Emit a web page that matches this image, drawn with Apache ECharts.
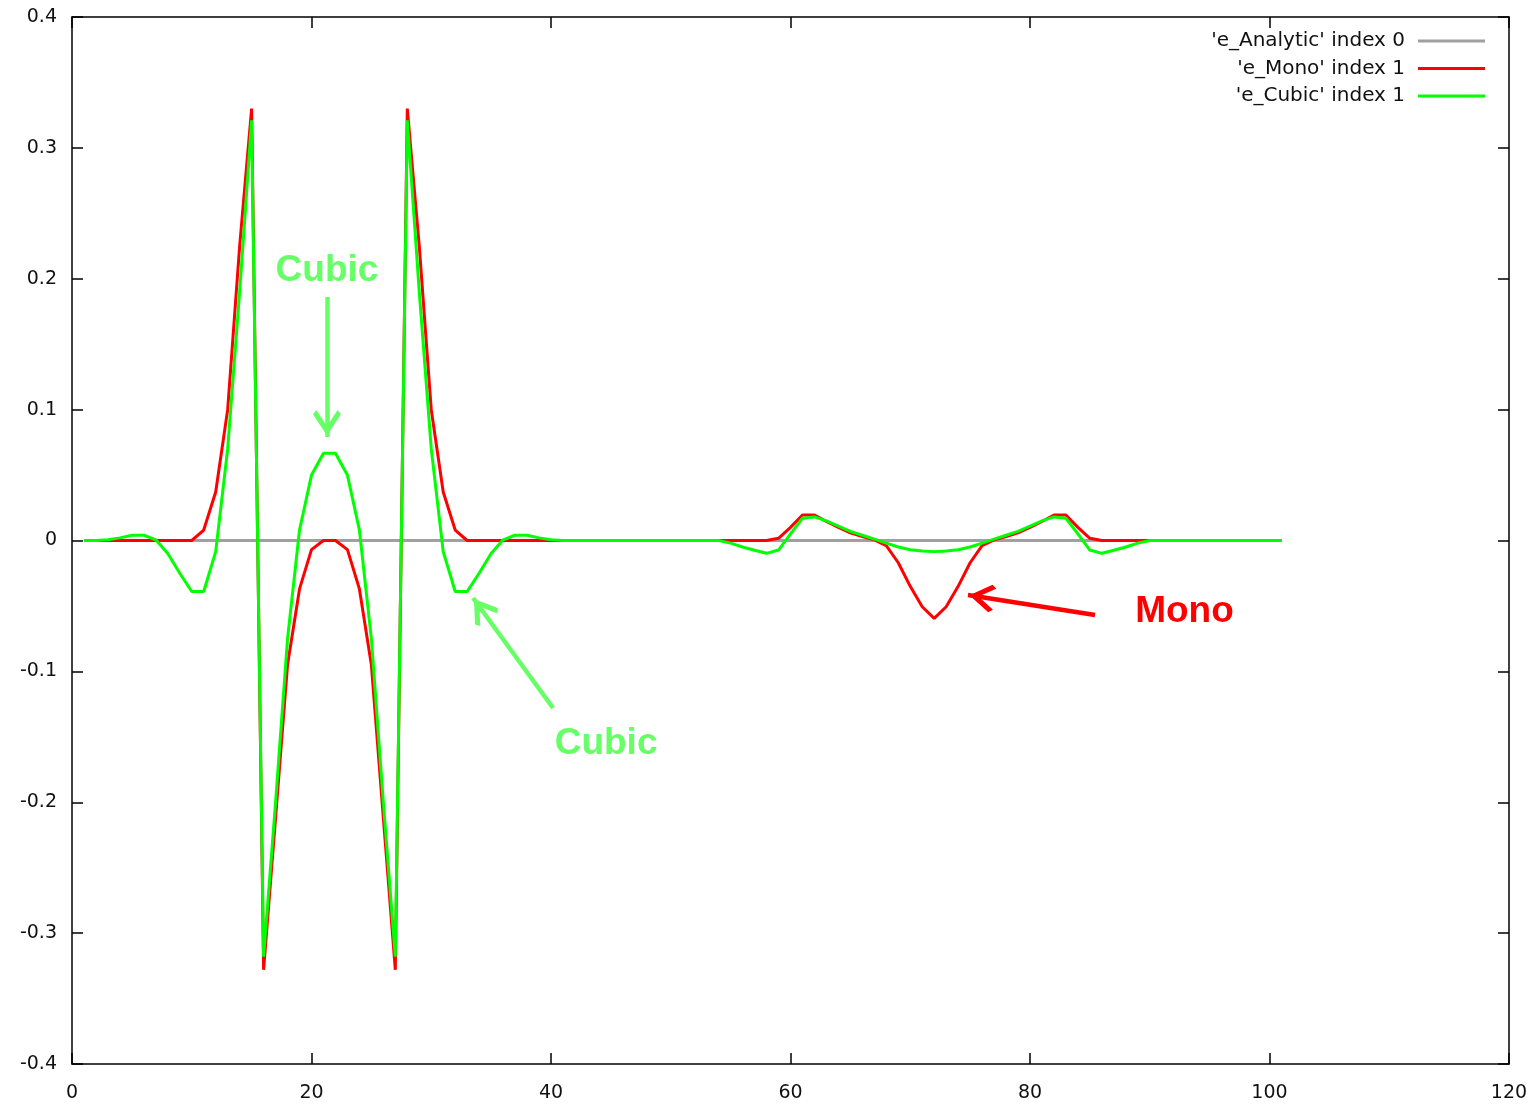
<!DOCTYPE html>
<html>
<head>
<meta charset="utf-8">
<script src="https://cdn.jsdelivr.net/npm/echarts@6/dist/echarts.min.js"></script>
<style>
html,body{margin:0;padding:0;background:#fff;}
#chart{width:1538px;height:1110px;}
</style>
</head>
<body>
<div id="chart"></div>
<script>
// ---- data ----
const xs = [1,2,3,4,5,6,7,8,9,10,11,12,13,14,15,16,17,18,19,20,
  21,22,23,24,25,26,27,28,29,30,31,32,33,34,35,36,37,38,39,40,
  41,42,43,44,45,46,47,48,49,50,51,52,53,54,55,56,57,58,59,60,
  61,62,63,64,65,66,67,68,69,70,71,72,73,74,75,76,77,78,79,80,
  81,82,83,84,85,86,87,88,89,90,91,92,93,94,95,96,97,98,99,100,101];

const analytic = [0,0,0,0,0,0,0,0,0,0,0,0,0,0,0,0,0,0,0,0,
  0,0,0,0,0,0,0,0,0,0,0,0,0,0,0,0,0,0,0,0,
  0,0,0,0,0,0,0,0,0,0,0,0,0,0,0,0,0,0,0,0,
  0,0,0,0,0,0,0,0,0,0,0,0,0,0,0,0,0,0,0,0,
  0,0,0,0,0,0,0,0,0,0,0,0,0,0,0,0,0,0,0,0,0];

const mono = [0,0,0,0,0,0,0,0,0,0,
  0.008,0.037,0.1,0.225,0.33,-0.328,-0.212,-0.095,-0.037,-0.007,
  0,0,-0.007,-0.037,-0.095,-0.212,-0.328,0.33,0.225,0.1,
  0.037,0.008,0,0,0,0,0,0,0,0,
  0,0,0,0,0,0,0,0,0,0,
  0,0,0,0,0,0,0,0,0.0017,0.01,
  0.0195,0.0195,0.0145,0.01,0.0058,0.003,0.0005,-0.004,-0.017,-0.035,
  -0.0506,-0.0595,-0.0506,-0.035,-0.017,-0.004,0.0005,0.003,0.0058,0.01,
  0.0145,0.0195,0.0195,0.01,0.0017,0,0,0,0,0,
  0,0,0,0,0,0,0,0,0,0,0];

const cubic = [0,0,0.0005,0.002,0.004,0.004,0.0005,-0.01,-0.025,-0.039,
  -0.039,-0.0085,0.07,0.19,0.321,-0.318,-0.2,-0.075,0.008,0.05,
  0.0666,0.0666,0.05,0.008,-0.075,-0.2,-0.318,0.321,0.19,0.07,
  -0.0085,-0.039,-0.039,-0.025,-0.01,0.0005,0.004,0.004,0.002,0.0005,
  0,0,0,0,0,0,0,0,0,0,
  0,0,0,0,-0.002,-0.005,-0.0075,-0.0098,-0.0073,0.005,
  0.017,0.018,0.015,0.011,0.007,0.004,0.001,-0.002,-0.005,-0.007,
  -0.008,-0.0085,-0.008,-0.007,-0.005,-0.002,0.001,0.004,0.007,0.011,
  0.015,0.018,0.017,0.005,-0.0073,-0.0098,-0.0075,-0.005,-0.002,0,
  0,0,0,0,0,0,0,0,0,0,0];

const seriesNames = ["'e_Analytic' index 0", "'e_Mono' index 1", "'e_Cubic' index 1"];
const seriesColors = ['#a0a0a0', '#ff0000', '#00ff00'];

const xTicks = {min: 0, max: 120, interval: 20};
const yTicks = {min: -0.4, max: 0.4, interval: 0.1};

// annotations (data coordinates)
const annotTexts = [
  {text: 'Cubic', at: [21.29, 0.206], color: '#66ff66'},
  {text: 'Cubic', at: [44.6, -0.155], color: '#66ff66'},
  {text: 'Mono', at: [92.9, -0.0545], color: '#ff0000'}
];
const annotArrows = [
  {from: [21.29, 0.186], to: [21.29, 0.0791], color: '#66ff66'},
  {from: [40.17, -0.128], to: [33.49, -0.0439], color: '#66ff66'},
  {from: [85.43, -0.0569], to: [74.82, -0.0416], color: '#ff0000'}
];

// ---- chart ----
const pairs = arr => xs.map((x, i) => [x, arr[i]]);
const chevron = 'path://M50,0 L50.01,0 Z M50,80 L100,140 L88,152 L50,106 L12,152 L0,140 Z';
const font = 'DejaVu Sans';

function axisCommon(extra) {
  return Object.assign({
    type: 'value',
    axisLine: {show: true, onZero: false, lineStyle: {color: '#000', width: 1.5}},
    axisTick: {show: true, inside: true, length: 11, lineStyle: {color: '#000', width: 1.5}},
    splitLine: {show: false}
  }, extra);
}

const chart = echarts.init(document.getElementById('chart'), null, {renderer: 'canvas'});
const lineSeries = [analytic, mono, cubic].map((arr, i) => ({
  type: 'line',
  name: seriesNames[i],
  data: pairs(arr),
  showSymbol: false,
  symbol: 'none',
  smooth: false,
  color: seriesColors[i],
  lineStyle: {color: seriesColors[i], width: 3},
  itemStyle: {color: seriesColors[i]},
  z: 2 + i,
  silent: true
}));

lineSeries.push({
  type: 'line',
  name: 'annotations',
  data: [],
  silent: true,
  z: 10,
  markLine: {
    silent: true,
    animation: false,
    symbol: ['none', chevron],
    symbolSize: [28, 54],
    label: {show: false},
    lineStyle: {type: 'solid', width: 4.5},
    data: annotArrows.map(a => [
      {coord: a.from, lineStyle: {color: a.color, type: 'solid', width: 4.5}, itemStyle: {color: a.color}},
      {coord: a.to}
    ])
  },
  markPoint: {
    silent: true,
    animation: false,
    symbol: 'rect',
    symbolSize: 1,
    itemStyle: {color: 'rgba(0,0,0,0)'},
    data: annotTexts.map(t => ({
      coord: t.at,
      value: t.text,
      label: {show: true, position: 'inside', formatter: t.text, color: t.color,
        fontFamily: 'Liberation Sans', fontWeight: 'bold', fontSize: 37}
    }))
  }
});

chart.setOption({
  animation: false,
  backgroundColor: '#ffffff',
  grid: {left: 72, right: 29, top: 17, bottom: 46, containLabel: false},
  legend: {
    orient: 'vertical',
    right: 53,
    top: 31,
    padding: 0,
    align: 'right',
    icon: 'rect',
    itemWidth: 67,
    itemHeight: 3,
    itemGap: 7.5,
    selectedMode: false,
    data: seriesNames,
    textStyle: {fontFamily: font, fontSize: 20, color: '#111', padding: [0, 8, 0, 0]}
  },
  xAxis: [
    axisCommon({min: xTicks.min, max: xTicks.max, interval: xTicks.interval, position: 'bottom',
      axisLabel: {show: true, margin: 20, color: '#111', fontFamily: font, fontSize: 19}}),
    axisCommon({min: xTicks.min, max: xTicks.max, interval: xTicks.interval, position: 'top',
      axisLabel: {show: false}})
  ],
  yAxis: [
    axisCommon({min: yTicks.min, max: yTicks.max, interval: yTicks.interval, position: 'left',
      axisLabel: {show: true, margin: 15, color: '#111', fontFamily: font, fontSize: 19}}),
    axisCommon({min: yTicks.min, max: yTicks.max, interval: yTicks.interval, position: 'right',
      axisLabel: {show: false}})
  ],
  series: lineSeries
});
</script>
</body>
</html>
